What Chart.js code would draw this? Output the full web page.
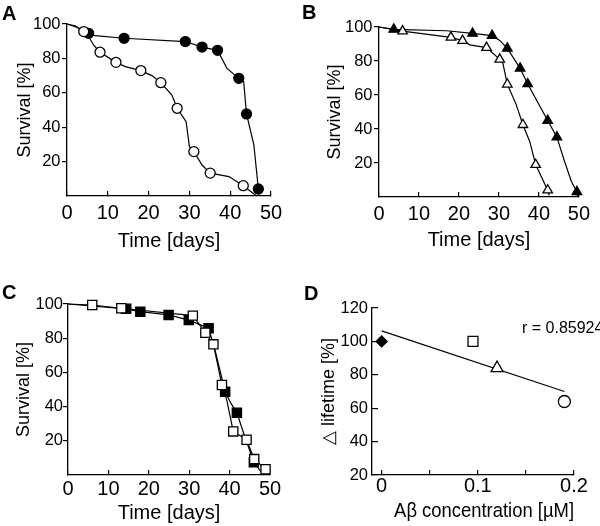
<!DOCTYPE html>
<html>
<head>
<meta charset="utf-8">
<script src="https://cdn.jsdelivr.net/npm/chart.js@4.4.1/dist/chart.umd.min.js"></script>
<style>
  body { margin: 0; background: #fff; }
  #wrap { position: relative; width: 600px; height: 526px; font-family: "Liberation Sans", Arial, sans-serif; color: #000; }
  .panel { position: absolute; width: 300px; height: 263px; }
  .panel canvas { display: block; }
  .tag { position: absolute; font-weight: bold; font-size: 20px; line-height: 20px; }
  #rval { position: absolute; left: 522px; top: 319px; font-size: 16px; line-height: 18px; white-space: nowrap; }
</style>
</head>
<body>
<div id="wrap">
  <div class="panel" style="left:0;top:0"><canvas id="chartA" width="300" height="263"></canvas></div>
  <div class="panel" style="left:300px;top:0"><canvas id="chartB" width="300" height="263"></canvas></div>
  <div class="panel" style="left:0;top:263px"><canvas id="chartC" width="300" height="263"></canvas></div>
  <div class="panel" style="left:300px;top:263px"><canvas id="chartD" width="300" height="263"></canvas></div>
  <div class="tag" style="left:2px;top:3px">A</div>
  <div class="tag" style="left:302px;top:2px">B</div>
  <div class="tag" style="left:2px;top:282px">C</div>
  <div class="tag" style="left:304px;top:283px">D</div>
  <div id="rval">r = 0.85924</div>
</div>
<script>
// survival curves, time in days / survival in %
const dayTicks = [0, 10, 20, 30, 40, 50];
const survTicks = [20, 40, 60, 80, 100];

// A - open circles
const aOpenLineX = [0, 2.0, 4.1, 5.3, 6.5, 8.1, 12.0, 14.3, 18.1, 20.8, 23.0, 25.7, 27.0, 29.2, 30.0, 31.1, 33.1, 35.1, 39.7, 43.2, 46.5];
const aOpenLineY = [100, 99, 95.6, 92.7, 87.8, 83.6, 77.7, 75.2, 72.9, 70, 65.9, 58.7, 51.0, 43.2, 28.7, 25.8, 18, 13.3, 11.3, 6.0, 0];
const aOpenMarkX = [4.1, 8.1, 12.0, 18.1, 23.0, 27.0, 31.1, 35.1, 43.2];
const aOpenMarkY = [95.6, 83.6, 77.7, 72.9, 65.9, 51.0, 25.8, 13.3, 6.0];
// A - filled circles
const aFillLineX = [0, 2.5, 5.3, 6.9, 14.0, 29.0, 33.1, 36.9, 39.2, 42.1, 43.3, 44.0, 45.8, 46.9, 47.0];
const aFillLineY = [100, 98, 94.6, 93.2, 91.7, 89.8, 86.6, 84.7, 74.2, 68.4, 66.5, 47.7, 29.7, 4.1, 0];
const aFillMarkX = [5.3, 14.0, 29.0, 33.1, 36.9, 42.1, 44.0, 46.9];
const aFillMarkY = [94.6, 91.7, 89.8, 86.6, 84.7, 68.4, 47.7, 4.1];

// B - filled triangles
const bFillLineX = [0, 3.7, 16.9, 23.4, 28.3, 30.2, 32.1, 35.3, 37.2, 42.2, 44.5, 46.4, 48.1, 49.5, 49.7];
const bFillLineY = [100, 98.6, 97.8, 96.2, 94.9, 92.1, 87.4, 75.7, 66.5, 45, 35.2, 21, 9.3, 3, 0];
const bFillMarkX = [3.7, 23.4, 28.3, 32.1, 35.3, 37.2, 42.2, 44.5, 49.5];
const bFillMarkY = [98.6, 96.2, 94.9, 87.4, 75.7, 66.5, 45, 35.2, 3];
// B - open triangles
const bOpenLineX = [0, 5.9, 18, 20.9, 22.7, 26.9, 30.2, 31.0, 32.1, 34.3, 36.0, 37.7, 39.2, 42.2, 42.6];
const bOpenLineY = [100, 97.6, 93.9, 92, 89.5, 87.9, 81, 78.6, 66.3, 54.5, 42.5, 32.7, 19, 4, 1];
const bOpenMarkX = [5.9, 18, 20.9, 26.9, 30.2, 32.1, 36.0, 39.2, 42.2];
const bOpenMarkY = [97.6, 93.9, 92, 87.9, 81, 66.3, 42.5, 19, 4];

// C - filled squares
const cFillLineX = [0, 14.4, 17.9, 24.9, 29.9, 34.8, 36.5, 38.9, 40.3, 41.8, 43.5, 46.0, 48.4];
const cFillLineY = [100, 97.2, 95.5, 93.6, 90.6, 85.8, 72, 48.7, 42, 36.4, 24.3, 7.5, 0];
const cFillMarkX = [14.4, 17.9, 24.9, 29.9, 34.8, 38.9, 41.8, 46.0];
const cFillMarkY = [97.2, 95.5, 93.6, 90.6, 85.8, 48.7, 36.4, 7.5];
// C - open squares
const cOpenLineX = [0, 6, 13.2, 30.9, 34, 36, 38.1, 39.3, 40.9, 44.2, 46.1, 48.9, 49.2];
const cOpenLineY = [100, 99.4, 97.5, 93.2, 83.2, 76.4, 52.6, 43.8, 25.5, 20.6, 9.3, 3.4, 0];
const cOpenMarkX = [6, 13.2, 30.9, 34, 36, 38.1, 40.9, 44.2, 46.1, 48.9];
const cOpenMarkY = [99.4, 97.5, 93.2, 83.2, 76.4, 52.6, 25.5, 20.6, 9.3, 3.4];

// D - lifetime change vs A-beta concentration
const concTicks = [0, 0.05, 0.1, 0.15, 0.2];
const concLabels = [0, 0.1, 0.2];
const lifeTicks = [20, 40, 60, 80, 100, 120];
const dConc = [0, 0.095, 0.12, 0.19];
const dLife = [100, 100, 84, 64];
const fitConc = [0, 0.19];
const fitLife = [106.3, 70];

const FONT = '"Liberation Sans", Arial, sans-serif';

function pts(xs, ys) {
  return xs.map((x, i) => ({ x: x, y: ys[i] }));
}

function lineSet(xs, ys) {
  return { data: pts(xs, ys), showLine: true, borderColor: '#000', borderWidth: 1.2,
           pointRadius: 0, tension: 0, clip: 6, order: 5 };
}

function markSet(xs, ys, shape, r, filled, order) {
  return { data: pts(xs, ys), showLine: false, pointStyle: shape, pointRadius: r,
           pointBorderColor: '#000', pointBorderWidth: 1.3,
           pointBackgroundColor: filled ? '#000' : '#fff', clip: 10, order: order };
}

function makeChart(id, datasets, p) {
  return new Chart(document.getElementById(id), {
    type: 'scatter',
    data: { datasets: datasets },
    options: {
      responsive: false,
      animation: false,
      events: [],
      layout: { padding: { left: 0, top: p.top, right: p.right, bottom: 0 } },
      plugins: { legend: { display: false }, tooltip: { enabled: false } },
      scales: {
        x: {
          type: 'linear', min: p.xMin, max: p.xMax,
          afterBuildTicks: s => { s.ticks = p.xTicks.map(v => ({ value: v })); },
          afterFit: s => { s.height = p.xH; },
          ticks: { color: '#000', font: { family: FONT, size: 20 }, padding: p.xPad,
                   maxRotation: 0, autoSkip: false,
                   callback: v => (p.xLabels.includes(v) ? String(v) : '') },
          grid: { display: true, drawOnChartArea: false, drawTicks: true, tickLength: -5, color: '#000', lineWidth: 1.2 },
          border: { display: true, color: '#000', width: 1.3 },
          title: { display: true, text: p.xTitle, color: '#000', font: { family: FONT, size: p.xTitleSize || 20 },
                   padding: { top: 0, bottom: p.xTitlePad } }
        },
        y: {
          type: 'linear', min: p.yMin, max: p.yMax,
          afterBuildTicks: s => { s.ticks = p.yTicks.map(v => ({ value: v })); },
          afterFit: s => { s.width = p.yW; },
          ticks: { color: '#000', font: { family: FONT, size: 16.5 }, padding: p.yPad },
          grid: { display: true, drawOnChartArea: false, drawTicks: true, tickLength: p.yTickLen, color: '#000', lineWidth: 1.2 },
          border: { display: true, color: '#000', width: 1.3 },
          title: { display: true, text: p.yTitle, color: '#000', font: { family: FONT, size: 18 },
                   padding: { top: p.yTitlePad, bottom: 0 } }
        }
      }
    }
  });
}

const survivalAxes = {
  xMin: 0, xMax: 50, xTicks: dayTicks, xLabels: dayTicks, xTitle: 'Time [days]',
  yMin: 0, yMax: 100, yTicks: survTicks, yTitle: 'Survival [%]', yTickLen: 5
};

makeChart('chartA', [
  markSet(aOpenMarkX, aOpenMarkY, 'circle', 5, false, 1),
  markSet(aFillMarkX, aFillMarkY, 'circle', 5, true, 2),
  lineSet(aOpenLineX, aOpenLineY),
  lineSet(aFillLineX, aFillLineY)
], Object.assign({}, survivalAxes, { top: 24, right: 29, yW: 67, xH: 67, xPad: 10, yPad: 1.5, xTitlePad: 10, yTitlePad: 14 }));

makeChart('chartB', [
  markSet(bOpenMarkX, bOpenMarkY, 'triangle', 5.5, false, 1),
  markSet(bFillMarkX, bFillMarkY, 'triangle', 5.5, true, 2),
  lineSet(bOpenLineX, bOpenLineY),
  lineSet(bFillLineX, bFillLineY)
], Object.assign({}, survivalAxes, { top: 27, right: 21, yW: 79, xH: 66, xPad: 10, yPad: 1.5, xTitlePad: 11, yTitlePad: 24 }));

makeChart('chartC', [
  markSet(cOpenMarkX, cOpenMarkY, 'rect', 6.5, false, 1),
  markSet(cFillMarkX, cFillMarkY, 'rect', 6.5, true, 2),
  lineSet(cOpenLineX, cOpenLineY),
  lineSet(cFillLineX, cFillLineY)
], Object.assign({}, survivalAxes, { top: 41, right: 30, yW: 68, xH: 51, xPad: 7, yPad: 0, xTitlePad: 1, yTitlePad: 13 }));

makeChart('chartD', [
  markSet([dConc[0]], [dLife[0]], 'rectRot', 5.5, true, 1),
  markSet([dConc[1]], [dLife[1]], 'rect', 7, false, 1),
  markSet([dConc[2]], [dLife[2]], 'triangle', 7, false, 1),
  markSet([dConc[3]], [dLife[3]], 'circle', 6, false, 1),
  lineSet(fitConc, fitLife)
], {
  xMin: -0.01, xMax: 0.2, xTicks: concTicks, xLabels: concLabels,
  xTitle: '\u2003\u2009A\u03b2 concentration [\u00b5M]', xTitleSize: 20.5,
  yMin: 20, yMax: 120, yTicks: lifeTicks, yTitle: '\u25b3 lifetime [%]', yTickLen: -6,
  top: 45, right: 26, yW: 72, xH: 51, xPad: 4, yPad: 10, xTitlePad: 2, yTitlePad: 18
});
</script>
</body>
</html>
